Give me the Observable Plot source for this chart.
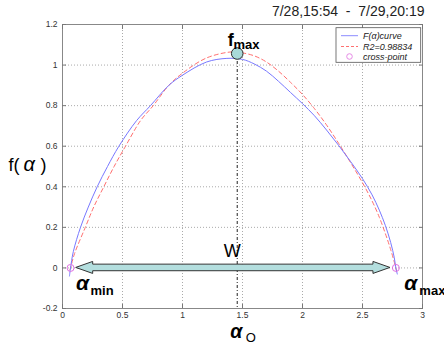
<!DOCTYPE html>
<html><head><meta charset="utf-8">
<script src="https://cdn.jsdelivr.net/npm/d3@7"></script>
<script src="https://cdn.jsdelivr.net/npm/@observablehq/plot@0.6"></script>
<style>
html,body{margin:0;padding:0;background:#fff;}
svg text{white-space:pre;}
</style></head><body><div id="chart"></div>
<script>
// F(alpha) measured curve
const fX = [0.058, 0.067, 0.09, 0.15, 0.215, 0.289, 0.375, 0.47, 0.617, 0.733, 0.886, 1.0, 1.2, 1.37, 1.5, 1.6, 1.7, 1.8, 1.9, 2.0, 2.1, 2.2, 2.3, 2.4, 2.5, 2.58, 2.64, 2.69, 2.735, 2.765, 2.778, 2.79];
const fY = [-0.04, 0, 0.08, 0.2, 0.3, 0.4, 0.5, 0.6, 0.726, 0.8, 0.9, 0.95, 1.015, 1.033, 1.028, 1.005, 0.97, 0.92, 0.865, 0.81, 0.75, 0.68, 0.605, 0.525, 0.44, 0.36, 0.285, 0.21, 0.125, 0.05, 0, -0.03];
// fitted curve (R2=0.98834)
const fitX = [0.062, 0.067, 0.1, 0.19, 0.26, 0.344, 0.43, 0.525, 0.65, 0.756, 0.886, 1.0, 1.2, 1.41, 1.5, 1.6, 1.7, 1.8, 1.9, 2.0, 2.1, 2.2, 2.3, 2.4, 2.5, 2.58, 2.64, 2.69, 2.735, 2.778, 2.785];
const fitY = [-0.01, 0, 0.07, 0.2, 0.3, 0.4, 0.5, 0.6, 0.726, 0.8, 0.9, 0.96, 1.035, 1.065, 1.06, 1.045, 1.015, 0.97, 0.915, 0.855, 0.785, 0.705, 0.615, 0.52, 0.42, 0.33, 0.25, 0.17, 0.09, 0, -0.02];
// cross points
const crossX = [0.067, 2.778];
const crossY = [0, 0];
// maximum
const alphaO = 1.456;
const fMax = 1.057;
// width arrow
const arrowSpan = [0.114, 2.733];
// ticks
const xTicks = [0, 0.5, 1, 1.5, 2, 2.5, 3];
const yTicks = [-0.2, 0, 0.2, 0.4, 0.6, 0.8, 1, 1.2];
// texts
const legendLabels = ["F(\u03b1)curve", "R2=0.98834", "cross-point"];
const titleText = "7/28,15:54  -  7/29,20:19";

const FONT = "Liberation Sans, Arial, sans-serif";
const curve = fX.map((x, i) => ({x, y: fY[i]}));
const fit = fitX.map((x, i) => ({x, y: fitY[i]}));
const cross = crossX.map((x, i) => ({x, y: crossY[i]}));
const fmaxPt = [{x: alphaO, y: fMax}];
const minPt = [cross[0]];
const maxPt = [cross[1]];
const oPt = [{x: alphaO, y: -0.2}];
const zeroO = [{x: alphaO, y: 0}];

function lbl(data, text, o) {
  return Plot.text(data, Object.assign({x: "x", y: "y", text: () => text, lineAnchor: "bottom",
    textAnchor: "start", fontFamily: FONT, fill: "#000"}, o));
}

function arrowMark(index, scales) {
  const x1 = scales.x(arrowSpan[0]), x2 = scales.x(arrowSpan[1]), y = scales.y(0);
  const h = 3.3, H = 6, L = 17;
  const d = `M${x1},${y}L${x1+L},${y-H}L${x1+L},${y-h}L${x2-L},${y-h}L${x2-L},${y-H}L${x2},${y}` +
            `L${x2-L},${y+H}L${x2-L},${y+h}L${x1+L},${y+h}L${x1+L},${y+H}Z`;
  const g = d3.create("svg:g");
  g.append("path").attr("d", d).attr("fill", "#b3dede").attr("stroke", "#333").attr("stroke-width", 1);
  return g.node();
}

function legendMark(index, scales, values, dim) {
  const right = dim.width - dim.marginRight, top = dim.marginTop;
  const x0 = right - 86, y0 = top + 3.7, w = 84.7, hh = 34.6;
  const g = d3.create("svg:g").attr("font-family", FONT).attr("font-size", 9)
    .attr("font-style", "italic").attr("text-anchor", "start");
  g.append("rect").attr("x", x0).attr("y", y0).attr("width", w).attr("height", hh)
    .attr("fill", "#fff").attr("stroke", "#555").attr("stroke-width", 0.8);
  const rows = [top + 11.7, top + 22.5, top + 32.5];
  g.append("line").attr("x1", x0 + 5).attr("x2", x0 + 22).attr("y1", rows[0]).attr("y2", rows[0])
    .attr("stroke", "#8c8cff").attr("stroke-width", 1);
  g.append("line").attr("x1", x0 + 5).attr("x2", x0 + 22).attr("y1", rows[1]).attr("y2", rows[1])
    .attr("stroke", "#ff7070").attr("stroke-width", 1).attr("stroke-dasharray", "3,2");
  g.append("circle").attr("cx", x0 + 13.5).attr("cy", rows[2]).attr("r", 2.8)
    .attr("fill", "none").attr("stroke", "#e68ae6").attr("stroke-width", 1);
  legendLabels.forEach((t, i) => {
    g.append("text").attr("x", x0 + 27).attr("y", rows[i] + 3).attr("fill", "#222")
      .attr("text-anchor", "start").text(t);
  });
  return g.node();
}

const plot = Plot.plot({
  width: 444, height: 345,
  marginLeft: 62, marginRight: 22, marginTop: 24, marginBottom: 37,
  style: {fontFamily: FONT, background: "#fff"},
  x: {domain: [0, 3]},
  y: {domain: [-0.2, 1.2]},
  marks: [
    Plot.gridX(xTicks, {stroke: "#aaa", strokeOpacity: 1, strokeDasharray: "1,2"}),
    Plot.gridY(yTicks, {stroke: "#aaa", strokeOpacity: 1, strokeDasharray: "1,2"}),
    Plot.frame({stroke: "#888", strokeWidth: 1}),
    Plot.axisX(xTicks, {tickSize: 0, tickPadding: 3, tickFormat: d => String(d), label: null, fontSize: 8.5, fill: "#333"}),
    Plot.axisY(yTicks, {tickSize: 0, tickPadding: 5, tickFormat: d => String(d), label: null, fontSize: 8.5, fill: "#333"}),
    Plot.axisX(xTicks, {tickSize: -4, tickFormat: () => "", label: null, stroke: "#777"}),
    Plot.axisX(xTicks, {anchor: "top", tickSize: -4, tickFormat: () => "", label: null, stroke: "#777"}),
    Plot.axisY(yTicks, {tickSize: -4, tickFormat: () => "", label: null, stroke: "#777"}),
    Plot.axisY(yTicks, {anchor: "right", tickSize: -4, tickFormat: () => "", label: null, stroke: "#777"}),
    Plot.ruleX(fmaxPt, {x: "x", y1: "y", y2: () => -0.2, stroke: "#222", strokeWidth: 1, strokeDasharray: "3,2,1,2"}),
    Plot.line(fit, {x: "x", y: "y", curve: "catmull-rom", stroke: "#ff6e6e", strokeWidth: 1, strokeDasharray: "4,3"}),
    Plot.line(curve, {x: "x", y: "y", curve: "catmull-rom", stroke: "#7878ff", strokeWidth: 1}),
    arrowMark,
    Plot.dot(cross, {x: "x", y: "y", r: 3.5, stroke: "#e070e0", fill: "none", strokeWidth: 1}),
    Plot.dot(fmaxPt, {x: "x", y: "y", r: 5.8, fill: "#a8d9d9", stroke: "#2a2a2a", strokeWidth: 1}),
    legendMark,
    // title
    Plot.text([0], {frameAnchor: "top-right", text: () => titleText, textAnchor: "end", lineAnchor: "bottom",
      dx: 2, dy: -8.5, fontSize: 14, fontFamily: FONT, fill: "#222"}),
    // f(alpha) y label
    Plot.text([0], {frameAnchor: "left", text: () => "f(", textAnchor: "start", lineAnchor: "bottom",
      dx: -54, dy: 4.5, fontSize: 18, fontFamily: FONT, fill: "#000"}),
    Plot.text([0], {frameAnchor: "left", text: () => "\u03b1", textAnchor: "start", lineAnchor: "bottom",
      dx: -39, dy: 4.5, fontSize: 20, fontStyle: "italic", fontFamily: FONT, fill: "#000"}),
    Plot.text([0], {frameAnchor: "left", text: () => ")", textAnchor: "start", lineAnchor: "bottom",
      dx: -22, dy: 4.5, fontSize: 18, fontFamily: FONT, fill: "#000"}),
    // fmax
    lbl(fmaxPt, "f", {dx: -9.5, dy: -7.5, fontSize: 18, fontWeight: "bold"}),
    lbl(fmaxPt, "max", {dx: -3.7, dy: -5, fontSize: 13, fontWeight: "bold"}),
    // W
    lbl(zeroO, "W", {textAnchor: "middle", dx: -5, dy: -10.5, fontSize: 18}),
    // alpha min
    lbl(minPt, "\u03b1", {dx: 5.5, dy: 22.5, fontSize: 21, fontStyle: "italic", fontWeight: "bold"}),
    lbl(minPt, "min", {dx: 20, dy: 27.5, fontSize: 13, fontWeight: "bold"}),
    // alpha max
    lbl(maxPt, "\u03b1", {dx: 8.5, dy: 22.5, fontSize: 21, fontStyle: "italic", fontWeight: "bold"}),
    lbl(maxPt, "max", {dx: 23.5, dy: 27.5, fontSize: 13, fontWeight: "bold"}),
    // alpha O
    lbl(oPt, "\u03b1", {dx: -7, dy: 29.5, fontSize: 19.5, fontStyle: "italic", fontWeight: "bold"}),
    lbl(oPt, "O", {dx: 8.5, dy: 33, fontSize: 13})
  ]
});
document.getElementById("chart").appendChild(plot);
</script></body></html>
